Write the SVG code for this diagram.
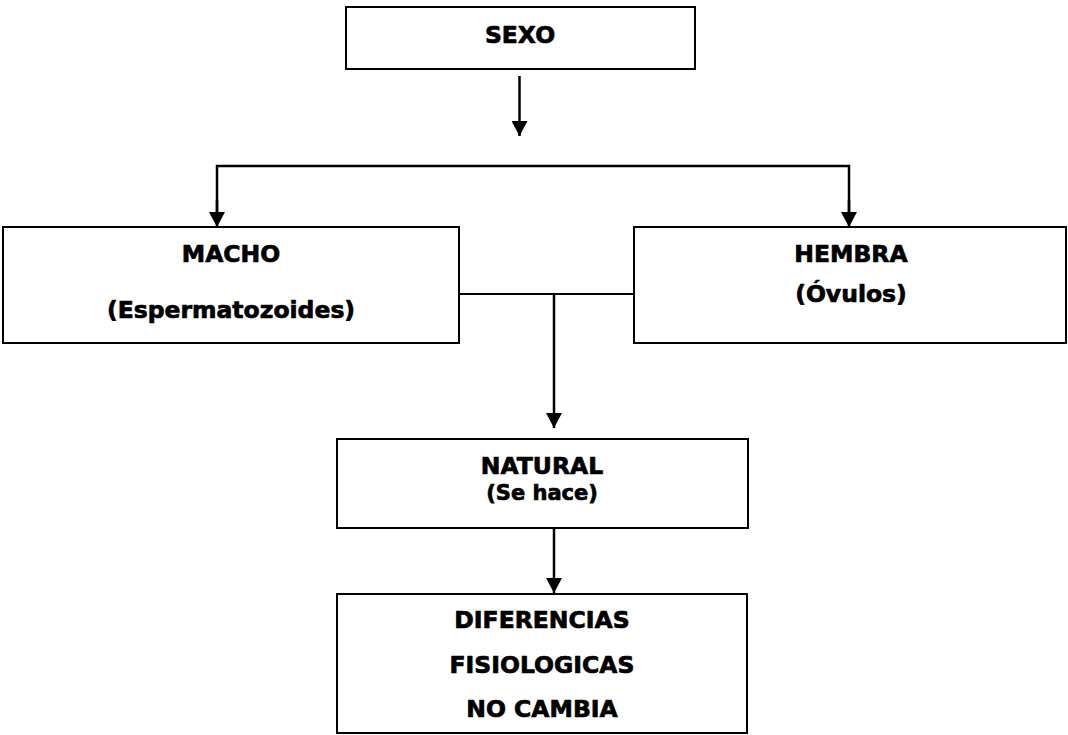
<svg xmlns="http://www.w3.org/2000/svg" width="1068" height="735" viewBox="0 0 1068 735">
  <defs>
    <marker id="arrow" markerWidth="16" markerHeight="16" refX="15" refY="8" orient="auto" markerUnits="userSpaceOnUse">
      <path d="M0,0 L15,8 L0,16 Z" fill="#000"/>
    </marker>
    <style>
      .box { fill: #fff; stroke: #000; stroke-width: 2; }
      .t { font-family: Verdana, "DejaVu Sans", sans-serif; font-weight: bold; font-size: 23.5px; text-anchor: middle; fill: #000; stroke: #000; stroke-width: 0.7; stroke-linejoin: round; }
      .s { font-size: 21px; }
      .line { fill: none; stroke: #000; stroke-width: 2.5; }
    </style>
  </defs>
  <rect width="1068" height="735" fill="#fff"/>

  <g id="connectors">
    <line class="line" x1="519.5" y1="76" x2="519.5" y2="136" marker-end="url(#arrow)"/>
    <polyline class="line" points="217,212 217,166 849,166 849,212" />
    <line class="line" x1="217" y1="200" x2="217" y2="227" marker-end="url(#arrow)"/>
    <line class="line" x1="849" y1="200" x2="849" y2="227" marker-end="url(#arrow)"/>
    <line class="line" style="stroke-width:2" x1="459" y1="294" x2="634" y2="294"/>
    <line class="line" x1="554" y1="294" x2="554" y2="428" marker-end="url(#arrow)"/>
    <line class="line" x1="554" y1="524" x2="554" y2="593" marker-end="url(#arrow)"/>
  </g>

  <g id="sexo">
    <rect class="box" x="346" y="7" width="349" height="62"/>
    <text class="t" x="520" y="43">SEXO</text>
  </g>

  <g id="macho">
    <rect class="box" x="3" y="227" width="456" height="116"/>
    <text class="t" x="231" y="262">MACHO</text>
    <text class="t" x="231" y="318">(Espermatozoides)</text>
  </g>

  <g id="hembra">
    <rect class="box" x="634" y="227" width="432" height="116"/>
    <text class="t" x="851" y="262">HEMBRA</text>
    <text class="t" x="851" y="302">(Óvulos)</text>
  </g>

  <g id="natural">
    <rect class="box" x="337" y="439" width="411" height="89"/>
    <text class="t" x="542" y="474">NATURAL</text>
    <text class="t s" x="542" y="500">(Se hace)</text>
  </g>

  <g id="diferencias">
    <rect class="box" x="337" y="594" width="410" height="139"/>
    <text class="t" x="542" y="628">DIFERENCIAS</text>
    <text class="t" x="542" y="673">FISIOLOGICAS</text>
    <text class="t" x="542" y="717">NO CAMBIA</text>
  </g>
</svg>
